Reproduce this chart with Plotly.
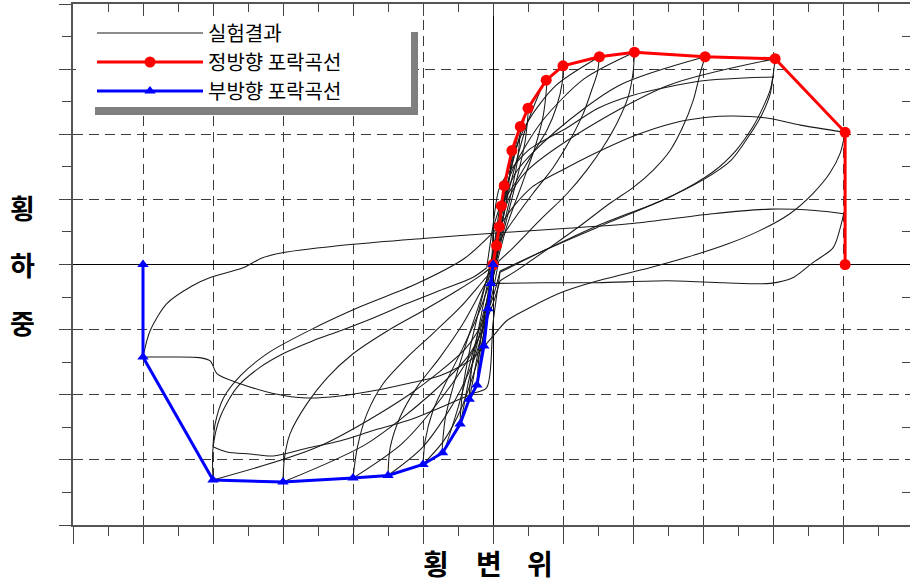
import plotly.graph_objects as go

# ---------------- data (displacement units / load units) ----------------
# positive (push) envelope
pos_env_x = [0.0, 0.05, 0.09, 0.12, 0.16, 0.27, 0.39, 0.50, 0.76, 1.00, 1.52, 2.02, 3.03, 4.03, 5.03, 5.03]
pos_env_y = [0.0, 0.29, 0.58, 0.90, 1.21, 1.75, 2.12, 2.40, 2.83, 3.05, 3.19, 3.26, 3.19, 3.16, 2.03, 0.0]
# negative (pull) envelope
neg_env_x = [0.0, -0.03, -0.07, -0.13, -0.23, -0.34, -0.47, -0.72, -1.00, -1.50, -2.00, -3.00, -4.00, -5.00, -5.00]
neg_env_y = [0.0, -0.29, -0.68, -1.25, -1.85, -2.07, -2.45, -2.89, -3.07, -3.24, -3.28, -3.34, -3.31, -1.42, 0.0]

# small cycles near origin (closed loops)
cyc009_x = [0.09, 0.03, -0.03, -0.07, -0.02, 0.04, 0.09]
cyc009_y = [0.58, 0.10, -0.35, -0.68, -0.20, 0.20, 0.58]
cyc016_x = [0.16, 0.10, 0.02, -0.06, -0.12, -0.07, 0.00, 0.08, 0.16]
cyc016_y = [1.21, 0.60, 0.00, -0.60, -1.25, -0.65, 0.00, 0.60, 1.21]
cyc027_x = [0.27, 0.22, 0.12, 0.02, -0.10, -0.23, -0.18, -0.08, 0.03, 0.15, 0.27]
cyc027_y = [1.75, 1.20, 0.55, -0.10, -0.80, -1.85, -1.20, -0.50, 0.25, 1.00, 1.75]
cyc039_x = [0.39, 0.35, 0.25, 0.12, 0.00, -0.12, -0.24, -0.34, -0.30, -0.20, -0.08, 0.05, 0.17, 0.28, 0.39]
cyc039_y = [2.12, 1.60, 1.05, 0.45, -0.15, -0.80, -1.50, -2.07, -1.55, -0.95, -0.30, 0.40, 1.00, 1.60, 2.12]
cyc050_x = [0.50, 0.46, 0.36, 0.22, 0.08, -0.05, -0.20, -0.35, -0.47, -0.43, -0.33, -0.20, -0.06, 0.06, 0.20, 0.35, 0.50]
cyc050_y = [2.40, 1.90, 1.40, 0.80, 0.20, -0.40, -1.10, -1.80, -2.45, -1.90, -1.30, -0.70, -0.10, 0.50, 1.20, 1.85, 2.40]
cyc076_x = [0.76, 0.72, 0.60, 0.42, 0.20, 0.05, -0.10, -0.30, -0.50, -0.72, -0.68, -0.55, -0.38, -0.18, -0.03, 0.12, 0.30, 0.50, 0.76]
cyc076_y = [2.83, 2.30, 1.80, 1.25, 0.60, 0.00, -0.60, -1.40, -2.20, -2.89, -2.35, -1.80, -1.20, -0.55, 0.00, 0.65, 1.45, 2.20, 2.83]

# unloading arcs from positive peaks
arc_p1_x = [1.00, 0.99, 0.91, 0.77, 0.57, 0.34, 0.10, 0.00]
arc_p1_y = [3.05, 2.80, 2.43, 2.06, 1.71, 1.29, 0.88, 0.55]
arc_p15_x = [1.52, 1.49, 1.41, 1.29, 1.10, 0.86, 0.57, 0.29, 0.08]
arc_p15_y = [3.19, 2.94, 2.68, 2.32, 1.91, 1.49, 1.09, 0.68, 0.35]
arc_p2_x = [2.02, 2.00, 1.93, 1.77, 1.57, 1.34, 1.06, 0.67, 0.29, 0.08]
arc_p2_y = [3.26, 2.94, 2.57, 2.17, 1.80, 1.45, 1.09, 0.68, 0.26, 0.05]
arc_p3_x = [3.03, 2.96, 2.86, 2.71, 2.53, 2.29, 2.00, 1.67, 1.29, 0.81, 0.34, 0.10]
arc_p3_y = [3.19, 2.94, 2.52, 2.11, 1.75, 1.45, 1.18, 0.94, 0.63, 0.26, -0.09, -0.25]
arc_p4_x = [4.03, 4.00, 3.96, 3.86, 3.71, 3.47, 3.14, 2.57, 1.60, 0.80, 0.10]
arc_p4_y = [3.16, 2.90, 2.68, 2.42, 2.11, 1.75, 1.42, 1.06, 0.62, 0.25, -0.10]
arc_p4b_x = [4.00, 3.96, 3.84, 3.66, 3.40, 3.00, 2.40, 1.50, 0.70, 0.10]
arc_p4b_y = [2.88, 2.62, 2.30, 1.98, 1.60, 1.30, 0.98, 0.60, 0.20, -0.12]

# loading branches toward negative peaks
ld_n1_x = [0.00, -0.02, -0.08, -0.20, -0.45, -0.70, -1.00]
ld_n1_y = [0.55, 0.00, -0.70, -1.40, -2.20, -2.70, -3.07]
ld_n15_x = [0.08, 0.00, -0.10, -0.25, -0.55, -1.00, -1.50]
ld_n15_y = [0.35, -0.20, -0.80, -1.40, -2.10, -2.80, -3.24]
ld_n2_x = [0.08, 0.00, -0.12, -0.30, -0.70, -1.30, -2.00]
ld_n2_y = [0.05, -0.40, -0.90, -1.35, -2.00, -2.75, -3.28]
ld_n3_x = [0.10, 0.00, -0.15, -0.35, -0.90, -1.80, -3.00]
ld_n3_y = [-0.25, -0.60, -1.00, -1.40, -2.00, -2.75, -3.34]
ld_n4_x = [0.10, 0.00, -0.15, -0.40, -1.20, -2.50, -4.00]
ld_n4_y = [-0.10, -0.50, -0.90, -1.30, -2.00, -2.80, -3.31]
ld_n4b_x = [0.10, 0.00, -0.09, -0.29, -0.76, -1.23, -1.71, -2.19, -2.66, -3.14, -3.47, -3.80, -4.00]
ld_n4b_y = [-0.12, -0.90, -1.89, -1.98, -2.20, -2.40, -2.55, -2.71, -2.82, -2.94, -2.91, -2.88, -2.80]

# unloading arcs from negative peaks
arc_n1_x = [-1.00, -0.97, -0.86, -0.66, -0.43, -0.19, -0.04]
arc_n1_y = [-3.07, -2.71, -2.25, -1.78, -1.28, -0.71, -0.25]
arc_n15_x = [-1.50, -1.47, -1.33, -1.09, -0.76, -0.43, -0.14, 0.00]
arc_n15_y = [-3.24, -2.82, -2.35, -1.89, -1.43, -0.91, -0.35, -0.10]
arc_n2_x = [-2.00, -1.94, -1.80, -1.57, -1.23, -0.86, -0.47, -0.14, 0.02]
arc_n2_y = [-3.28, -2.82, -2.29, -1.83, -1.43, -1.06, -0.66, -0.25, -0.05]
arc_n3_x = [-3.00, -2.98, -2.90, -2.66, -2.37, -2.00, -1.51, -1.00, -0.51, -0.14, 0.02]
arc_n3_y = [-3.34, -2.98, -2.60, -2.14, -1.74, -1.37, -1.02, -0.71, -0.40, -0.14, 0.00]
arc_n4_x = [-4.00, -4.00, -3.90, -3.66, -3.33, -3.00, -2.57, -2.19, -1.71, -1.23, -0.76, -0.29, -0.09]
arc_n4_y = [-3.31, -2.82, -2.35, -1.89, -1.58, -1.37, -1.17, -1.02, -0.82, -0.60, -0.40, -0.20, -0.05]
arc_n4b_x = [-4.00, -3.97, -3.85, -3.60, -3.20, -2.60, -1.90, -1.10, -0.40, 0.10]
arc_n4b_y = [-2.80, -2.45, -2.05, -1.70, -1.35, -1.00, -0.65, -0.30, 0.10, 0.60]

# loading branches toward positive peaks
ld_p15_x = [-0.04, 0.03, 0.12, 0.25, 0.50, 0.90, 1.52]
ld_p15_y = [-0.25, 0.40, 1.00, 1.55, 2.20, 2.75, 3.19]
ld_p2_x = [0.00, 0.06, 0.15, 0.30, 0.70, 1.30, 2.02]
ld_p2_y = [-0.10, 0.45, 1.05, 1.50, 2.20, 2.85, 3.26]
ld_p3_x = [0.02, 0.08, 0.18, 0.35, 0.90, 1.80, 3.03]
ld_p3_y = [-0.05, 0.50, 1.05, 1.45, 2.05, 2.75, 3.19]
ld_p4_x = [0.02, 0.10, 0.22, 0.45, 1.20, 2.50, 4.03]
ld_p4_y = [0.00, 0.50, 1.00, 1.40, 2.00, 2.75, 3.16]
ld_p4b_x = [-0.09, 0.00, 0.10, 0.50, 1.06, 1.50, 2.00, 3.00, 4.00]
ld_p4b_y = [-0.05, 0.60, 1.20, 1.75, 2.10, 2.40, 2.60, 2.82, 2.88]

# final cycles at +-5
hump5_x = [0.10, 0.30, 0.57, 1.06, 1.54, 2.00, 2.57, 3.06, 3.43, 3.91, 4.39, 5.03]
hump5_y = [0.60, 0.90, 1.20, 1.49, 1.75, 1.97, 2.17, 2.26, 2.28, 2.25, 2.14, 2.03]
down5_x = [5.03, 4.96, 4.81, 4.57, 4.24, 3.81, 3.34, 2.77, 2.24, 1.50, 1.00, 0.53, 0.20, 0.00, -0.30,
           -0.76, -1.23, -1.71, -2.19, -2.66, -3.14, -3.61, -3.94, -4.04, -4.19, -4.60, -5.00]
down5_y = [2.03, 1.71, 1.40, 1.09, 0.78, 0.52, 0.31, 0.11, -0.05, -0.25, -0.42, -0.66, -0.86, -1.10, -1.45,
           -1.71, -1.83, -1.94, -2.02, -2.05, -1.98, -1.83, -1.68, -1.48, -1.43, -1.42, -1.42]
up5_x = [-5.00, -4.90, -4.66, -4.30, -4.04, -3.57, -3.30, -3.01, -2.00, -1.00, 0.00, 0.96, 2.00, 3.14, 3.96, 4.60, 5.01]
up5_y = [-1.42, -1.02, -0.60, -0.33, -0.20, -0.05, 0.10, 0.18, 0.31, 0.40, 0.48, 0.55, 0.63, 0.78, 0.85, 0.83, 0.78]
end5_x = [5.01, 4.97, 4.86, 4.57, 4.29, 3.96, 3.30, 2.49, 1.49, 0.70, 0.00]
end5_y = [0.78, 0.60, 0.26, 0.03, -0.20, -0.29, -0.28, -0.25, -0.28, -0.28, -0.29]

legend_names = ["실험결과", "정방향 포락곡선", "부방향 포락곡선"]
x_title_chars = ["횡", "변", "위"]
y_title_chars = ["횡", "하", "중"]

X_RANGE = [-6.0, 5.957]
Y_RANGE = [-4.0, 4.0]

branches = [
    (cyc009_x, cyc009_y), (cyc016_x, cyc016_y), (cyc027_x, cyc027_y), (cyc039_x, cyc039_y),
    (cyc050_x, cyc050_y), (cyc076_x, cyc076_y),
    (arc_p1_x, arc_p1_y), (ld_n1_x, ld_n1_y), (arc_n1_x, arc_n1_y), (ld_p15_x, ld_p15_y),
    (arc_p15_x, arc_p15_y), (ld_n15_x, ld_n15_y), (arc_n15_x, arc_n15_y), (ld_p2_x, ld_p2_y),
    (arc_p2_x, arc_p2_y), (ld_n2_x, ld_n2_y), (arc_n2_x, arc_n2_y), (ld_p3_x, ld_p3_y),
    (arc_p3_x, arc_p3_y), (ld_n3_x, ld_n3_y), (arc_n3_x, arc_n3_y), (ld_p4_x, ld_p4_y),
    (arc_p4_x, arc_p4_y), (ld_n4_x, ld_n4_y), (arc_n4_x, arc_n4_y), (ld_p4b_x, ld_p4b_y),
    (arc_p4b_x, arc_p4b_y), (ld_n4b_x, ld_n4b_y), (arc_n4b_x, arc_n4b_y),
    (hump5_x, hump5_y), (down5_x, down5_y), (up5_x, up5_y), (end5_x, end5_y),
]

# ---------------- figure ----------------
FONT = "Noto Sans CJK KR"
W, H = 910, 584
L, R, T, B = 73, 0, 4, 59
pw, ph = W - L - R, H - T - B

def px_x(p):
    return (p - L) / pw

def px_y(p):
    return (H - B - p) / ph

fig = go.Figure()

for i, (bx, by) in enumerate(branches):
    fig.add_trace(go.Scatter(
        x=bx, y=by, mode="lines",
        line=dict(color="#1a1a1a", width=1.05, shape="spline", smoothing=0.8),
        name=legend_names[0], legend="legend", showlegend=(i == 0),
        hoverinfo="skip",
    ))

fig.add_trace(go.Scatter(
    x=pos_env_x, y=pos_env_y, mode="lines+markers", name=legend_names[1], legend="legend2",
    line=dict(color="#ff0000", width=3),
    marker=dict(symbol="circle", size=11, color="#ff0000"),
))
fig.add_trace(go.Scatter(
    x=neg_env_x, y=neg_env_y, mode="lines+markers", name=legend_names[2], legend="legend3",
    line=dict(color="#0000ff", width=3),
    marker=dict(symbol="triangle-up", size=10, color="#0000ff"),
))

# invisible trace to activate top x axis and right y axis (ticks only)
fig.add_trace(go.Scatter(x=X_RANGE, y=Y_RANGE, xaxis="x2", yaxis="y2", mode="none",
                         showlegend=False, hoverinfo="skip"))

def legend_box(row_px):
    return dict(
        x=px_x(92), y=px_y(row_px), xanchor="left", yanchor="middle",
        bgcolor="rgba(0,0,0,0)", borderwidth=0,
        font=dict(family=FONT, size=20, color="black"),
        itemwidth=106,
    )

grid_col = "#3c3c3c"
fig.update_layout(
    width=W, height=H,
    margin=dict(l=L, r=R, t=T, b=B, pad=0),
    paper_bgcolor="white", plot_bgcolor="white",
    showlegend=True,
    legend=legend_box(33),
    legend2=legend_box(62),
    legend3=legend_box(91),
    xaxis=dict(
        range=X_RANGE, dtick=1, tick0=0, showticklabels=False,
        ticks="outside", ticklen=17, tickwidth=1.3, tickcolor="#444",
        showline=True, linecolor="#555", linewidth=1.6, mirror=True,
        showgrid=True, gridcolor=grid_col, gridwidth=1.3, griddash="10px,6px",
        zeroline=True, zerolinecolor="black", zerolinewidth=1.2,
        minor=dict(dtick=0.5, ticks="outside", ticklen=9, tickcolor="#444", tickwidth=1.2, showgrid=False),
    ),
    yaxis=dict(
        range=Y_RANGE, dtick=1, tick0=0, showticklabels=False,
        ticks="outside", ticklen=12, tickwidth=1.3, tickcolor="#444",
        showline=True, linecolor="#555", linewidth=1.6, mirror=False,
        showgrid=True, gridcolor=grid_col, gridwidth=1.3, griddash="10px,6px",
        zeroline=True, zerolinecolor="black", zerolinewidth=1.2,
        minor=dict(dtick=0.5, ticks="outside", ticklen=9, tickcolor="#444", tickwidth=1.2, showgrid=False),
    ),
    xaxis2=dict(
        overlaying="x", side="top", range=X_RANGE, dtick=1, tick0=0, showticklabels=False,
        ticks="inside", ticklen=12, tickwidth=1.2, tickcolor="#444", showline=False, showgrid=False,
        zeroline=False,
        minor=dict(dtick=0.5, ticks="inside", ticklen=8, tickcolor="#444", tickwidth=1.2, showgrid=False),
    ),
    yaxis2=dict(
        overlaying="y", side="right", range=Y_RANGE, tickvals=[-3.5, -2.5, -1.5, -0.5, 0.5, 1.5, 2.5, 3.5],
        showticklabels=False, ticks="inside", ticklen=8, tickwidth=1.2, tickcolor="#444",
        showline=False, showgrid=False, zeroline=False,
    ),
    shapes=[
        # legend shadow
        dict(type="rect", xref="paper", yref="paper", layer="above",
             x0=px_x(95), x1=px_x(418), y0=px_y(115), y1=px_y(32),
             fillcolor="#7f7f7f", line=dict(width=0)),
        # legend box
        dict(type="rect", xref="paper", yref="paper", layer="above",
             x0=px_x(76), x1=px_x(411), y0=px_y(107), y1=px_y(19),
             fillcolor="white", line=dict(width=0)),
    ],
)

annotations = []
for ch, cx in zip(x_title_chars, [436, 489, 540]):
    annotations.append(dict(text=ch, x=px_x(cx), y=px_y(563), xref="paper", yref="paper",
                            showarrow=False, xanchor="center", yanchor="middle",
                            font=dict(family=FONT, size=28, color="black", weight=700)))
for ch, cy in zip(y_title_chars, [207, 264, 322]):
    annotations.append(dict(text=ch, x=px_x(22), y=px_y(cy), xref="paper", yref="paper",
                            showarrow=False, xanchor="center", yanchor="middle",
                            font=dict(family=FONT, size=27, color="black", weight=700)))
fig.update_layout(annotations=annotations)

fig.write_html(
    "out.html",
    config={"displayModeBar": False},
    post_script="document.body.style.margin='0';document.body.style.padding='0';"
                "document.documentElement.style.overflow='hidden';",
)
